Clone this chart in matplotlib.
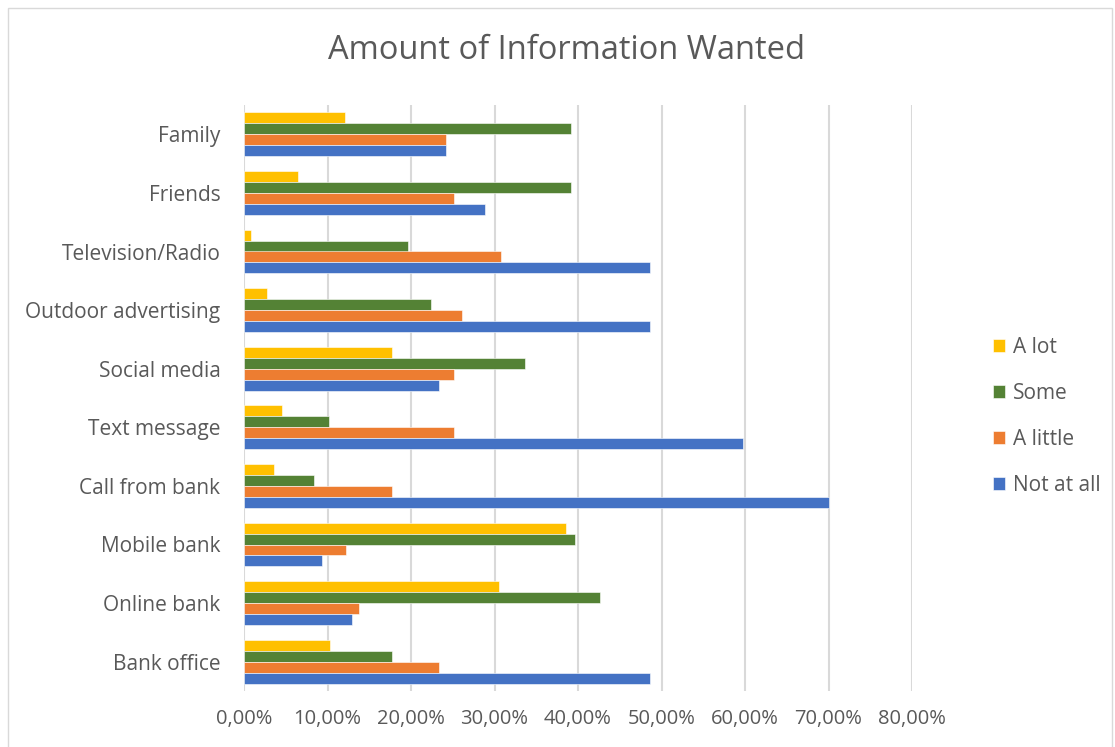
import matplotlib
matplotlib.use("Agg")
import matplotlib.pyplot as plt
from matplotlib.patches import Rectangle
from matplotlib.ticker import FuncFormatter, MultipleLocator
import numpy as np

categories = ["Family", "Friends", "Television/Radio", "Outdoor advertising",
              "Social media", "Text message", "Call from bank", "Mobile bank",
              "Online bank", "Bank office"]
a_lot = [12.1, 6.5, 0.8, 2.7, 17.7, 4.6, 3.6, 38.6, 30.5, 10.3]
some = [39.2, 39.2, 19.6, 22.4, 33.7, 10.2, 8.4, 39.6, 42.6, 17.7]
a_little = [24.2, 25.2, 30.8, 26.1, 25.2, 25.2, 17.7, 12.2, 13.8, 23.3]
not_at_all = [24.2, 28.9, 48.6, 48.6, 23.3, 59.8, 70.1, 9.4, 12.9, 48.6]

series = [("A lot", a_lot, "#FFC000"),
          ("Some", some, "#548235"),
          ("A little", a_little, "#ED7D31"),
          ("Not at all", not_at_all, "#4472C4")]

plt.rcParams['font.family'] = ['Open Sans', 'DejaVu Sans']
txt = "#595959"

fig = plt.figure(figsize=(11.15, 7.47), dpi=100)
ax = fig.add_axes([244/1115, 1-691/747, (912-244)/1115, (691-105)/747])

n = len(categories)
ypos = np.arange(n)[::-1]  # Family at top
bh = 0.1875
offsets = [1.5*bh, 0.5*bh, -0.5*bh, -1.5*bh]
handles = []
for (name, vals, col), off in zip(series, offsets):
    h = ax.barh(ypos + off, vals, height=bh, color=col, label=name,
                edgecolor="white", linewidth=0.4, zorder=3)
    handles.append(h)

ax.set_xlim(0, 80)
ax.set_ylim(-0.5, n - 0.5)
ax.set_yticks(ypos)
ax.set_yticklabels(categories, fontsize=15, color=txt)
ax.xaxis.set_major_locator(MultipleLocator(10))
ax.xaxis.set_major_formatter(FuncFormatter(lambda v, p: f"{v:.2f}%".replace(".", ",")))
ax.tick_params(axis='x', labelsize=14.5, colors=txt, length=0, pad=13)
ax.tick_params(axis='y', length=0, pad=17)
for s in ax.spines.values():
    s.set_visible(False)
ax.grid(axis='x', color="#D9D9D9", linewidth=1.5, zorder=0)
ax.set_axisbelow(True)

ax.set_title("Amount of Information Wanted", fontsize=23.5, color=txt, pad=33,
             x=(567-244)/(912-244))

leg = fig.legend(handles=handles, labels=[s[0] for s in series],
                 loc="center left", bbox_to_anchor=(974/1115, 1-416/747),
                 frameon=False, fontsize=15, labelspacing=1.2,
                 handlelength=0.6, handleheight=0.6, handletextpad=0.35)
for t in leg.get_texts():
    t.set_color(txt)

fig.patches.append(Rectangle((8/1115, -0.01), 1104/1115, 1 - 8/747 + 0.01,
                             transform=fig.transFigure, fill=False,
                             edgecolor="#D9D9D9", linewidth=1))

fig.savefig("out.png", dpi=100, facecolor="white")
